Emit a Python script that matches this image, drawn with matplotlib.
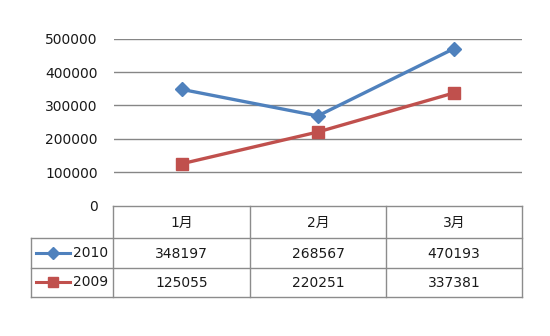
import matplotlib
matplotlib.use("Agg")
import matplotlib.pyplot as plt

plt.rcParams['font.family'] = ['DejaVu Sans', 'Noto Sans CJK SC']

categories = ["1月", "2月", "3月"]
series_names = ["2010", "2009"]
values_2010 = [348197, 268567, 470193]
values_2009 = [125055, 220251, 337381]
yticks = [0, 100000, 200000, 300000, 400000, 500000]

colors = {"2010": "#4F81BD", "2009": "#C0504D"}
markers = {"2010": "D", "2009": "s"}
msizes = {"2010": 7, "2009": 8.5}
series = {"2010": values_2010, "2009": values_2009}

W, H = 550, 336
fig = plt.figure(figsize=(W / 100, H / 100), dpi=100)

def fx(px):
    return px / W

def fy(py):
    return 1 - py / H

# plot axes
x0, x1 = 113.5, 522
y_top, y_bot = 38.7, 205.5
ax = fig.add_axes([fx(x0), fy(y_bot), fx(x1) - fx(x0), fy(y_top) - fy(y_bot)])
ax.set_xlim(0, len(categories))
ax.set_ylim(0, 500000)
for s in ax.spines.values():
    s.set_visible(False)
ax.set_xticks([])
ax.set_yticks(yticks)
ax.set_yticklabels([str(v) for v in yticks], fontsize=10, color="#1a1a1a")
ax.tick_params(axis="y", length=0, pad=11.3)
for v in yticks[1:]:
    ax.axhline(v, color="#868686", lw=1.0, zorder=1)

xs = [i + 0.5 for i in range(len(categories))]
for name in series_names:
    ax.plot(xs, series[name], color=colors[name], lw=2.4, marker=markers[name],
            ms=msizes[name], mec=colors[name], mfc=colors[name], zorder=3,
            clip_on=False)

# table axes (pixel coordinates)
tl, tr = 30.7, 522
tt, tb = 205.5, 296.7
tax = fig.add_axes([fx(tl), fy(tb), fx(tr) - fx(tl), fy(tt) - fy(tb)])
tax.set_xlim(tl, tr)
tax.set_ylim(tb, tt)
tax.axis("off")

border = "#8c8c8c"
row_edges = [205.5, 237.7, 267.7, 296.7]
col_edges = [113.5, 250, 386, 522]
lw = 1.0
tax.plot([col_edges[0], col_edges[-1]], [row_edges[0]] * 2, color=border, lw=lw, clip_on=False)
for r in row_edges[1:]:
    tax.plot([tl, tr], [r, r], color=border, lw=lw, clip_on=False)
for c in col_edges:
    tax.plot([c, c], [row_edges[0], row_edges[-1]], color=border, lw=lw, clip_on=False)
tax.plot([tl, tl], [row_edges[1], row_edges[-1]], color=border, lw=lw, clip_on=False)

for i, cat in enumerate(categories):
    cx = (col_edges[i] + col_edges[i + 1]) / 2
    tax.text(cx, (row_edges[0] + row_edges[1]) / 2 + 1, cat, ha="center", va="center",
             fontsize=10, color="#1a1a1a",
             family=['DejaVu Sans', 'Noto Sans CJK SC'])

for j, name in enumerate(series_names):
    cy = (row_edges[j + 1] + row_edges[j + 2]) / 2
    tax.plot([36, 70], [cy, cy], color=colors[name], lw=2.2, clip_on=False)
    tax.plot([53], [cy], marker=markers[name], ms=msizes[name] - 1, color=colors[name],
             clip_on=False)
    tax.text(108, cy, name, ha="right", va="center", fontsize=10, color="#1a1a1a")
    for i, v in enumerate(series[name]):
        cx = (col_edges[i] + col_edges[i + 1]) / 2
        tax.text(cx, cy + 1, str(v), ha="center", va="center", fontsize=10, color="#1a1a1a")

fig.savefig("out.png", dpi=100, facecolor="white")
